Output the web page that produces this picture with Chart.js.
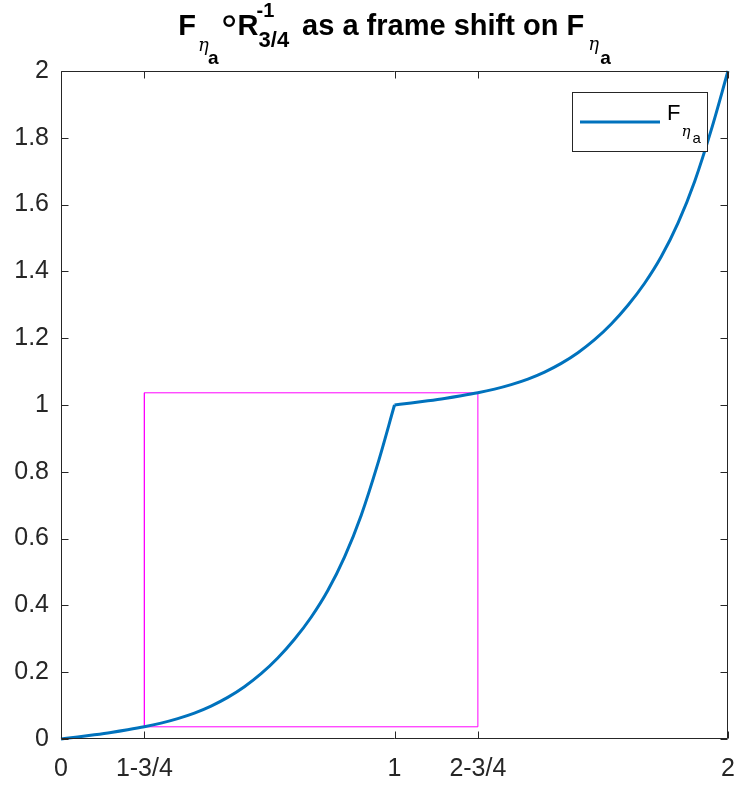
<!DOCTYPE html>
<html>
<head>
<meta charset="utf-8">
<script src="https://cdn.jsdelivr.net/npm/chart.js@4.4.1/dist/chart.umd.min.js"></script>
<style>
  html, body { margin: 0; padding: 0; background: #ffffff; }
  canvas { display: block; }
</style>
</head>
<body>
<canvas id="chart" width="736" height="787"></canvas>
<script>
// F on [0, 1]
const xLeft = [0, 0.05, 0.1, 0.15, 0.2, 0.25, 0.3, 0.35, 0.4, 0.45, 0.5,
               0.55, 0.6, 0.65, 0.7, 0.75, 0.8, 0.85, 0.9, 0.95, 1.0];
const fLeft = [0, 0.006, 0.0125, 0.0195, 0.0275, 0.0365, 0.0475, 0.061, 0.0775, 0.0985, 0.1245,
               0.1565, 0.1955, 0.2425, 0.2985, 0.3645, 0.4445, 0.5445, 0.6695, 0.8245, 1.000];

// F on [1, 2]
const xRight = [1.0, 1.05, 1.1, 1.15, 1.2, 1.25, 1.3, 1.35, 1.4, 1.45, 1.5,
                1.55, 1.6, 1.65, 1.7, 1.75, 1.8, 1.85, 1.9, 1.95, 2.0];
const fRight = [1.000, 1.006, 1.0125, 1.0195, 1.0275, 1.0365, 1.0475, 1.061, 1.0775, 1.0985, 1.1245,
                1.1565, 1.1955, 1.2425, 1.2985, 1.3645, 1.4445, 1.5445, 1.6695, 1.8245, 2.000];

// shifted frame: from 1-3/4 to 2-3/4
const frameX = [0.25, 1.25];
const frameY = [fLeft[5], fRight[5]];

const xTickValues = [0, 0.25, 1, 1.25, 2];
const xTickLabels = ['0', '1-3/4', '1', '2-3/4', '2'];
const yTickValues = [0, 0.2, 0.4, 0.6, 0.8, 1, 1.2, 1.4, 1.6, 1.8, 2];
const yTickLabels = ['0', '0.2', '0.4', '0.6', '0.8', '1', '1.2', '1.4', '1.6', '1.8', '2'];

const SANS = '"Liberation Sans", Arial, Helvetica, sans-serif';
const SERIF_IT = '"DejaVu Serif", "Liberation Serif", serif';
const AXIS_COLOR = '#262626';
const LINE_BLUE = '#0072BD';

const toPoints = (xs, ys) => xs.map((x, i) => ({ x: x, y: ys[i] }));

const framePoints = [
  { x: frameX[0], y: frameY[0] },
  { x: frameX[1], y: frameY[0] },
  { x: frameX[1], y: frameY[1] },
  { x: frameX[0], y: frameY[1] },
  { x: frameX[0], y: frameY[0] }
];

// axes box with inward tick marks on all four sides
const axesBox = {
  id: 'axesBox',
  afterDatasetsDraw(chart) {
    const { ctx, chartArea: a, scales } = chart;
    const L = Math.round(a.left) + 0.5, R = Math.round(a.right) - 0.5;
    const T = Math.round(a.top) + 0.5, B = Math.round(a.bottom) - 0.5;
    const tick = 7;
    ctx.save();
    ctx.strokeStyle = AXIS_COLOR;
    ctx.lineWidth = 1;
    ctx.beginPath();
    ctx.rect(L, T, R - L, B - T);
    xTickValues.forEach(v => {
      const px = Math.round(scales.x.getPixelForValue(v)) + 0.5;
      ctx.moveTo(px, B); ctx.lineTo(px, B - tick);
      ctx.moveTo(px, T); ctx.lineTo(px, T + tick);
    });
    yTickValues.forEach(v => {
      const py = Math.round(scales.y.getPixelForValue(v)) + 0.5;
      ctx.moveTo(L, py); ctx.lineTo(L + tick, py);
      ctx.moveTo(R, py); ctx.lineTo(R - tick, py);
    });
    ctx.stroke();
    ctx.restore();
  }
};

// measure (and optionally draw) a row of text runs; runs sharing a
// "stack" key start at the same x (super- and subscripts)
function layoutRuns(ctx, runs, startX, draw) {
  let x = startX;
  let i = 0;
  while (i < runs.length) {
    const r = runs[i];
    if (r.stack) {
      let w = 0;
      const group = [];
      while (i < runs.length && runs[i].stack === r.stack) { group.push(runs[i]); i++; }
      group.forEach(g => {
        ctx.font = g.font;
        if (draw) ctx.fillText(g.text, x + (g.dx || 0), g.y);
        w = Math.max(w, ctx.measureText(g.text).width + (g.dx || 0));
      });
      x += w + (group[group.length - 1].after || 0);
    } else if (r.box) {
      ctx.font = r.font;
      if (draw) {
        ctx.textAlign = 'center';
        ctx.fillText(r.text, x + r.box / 2, r.y);
        ctx.textAlign = 'left';
      }
      x += r.box + (r.after || 0);
      i++;
    } else {
      ctx.font = r.font;
      if (draw) ctx.fillText(r.text, x + (r.dx || 0), r.y);
      x += ctx.measureText(r.text).width + (r.dx || 0) + (r.after || 0);
      i++;
    }
  }
  return x - startX;
}

const titleAndLegend = {
  id: 'titleAndLegend',
  afterDraw(chart) {
    const { ctx, chartArea: a } = chart;
    ctx.save();
    ctx.textAlign = 'left';
    ctx.textBaseline = 'alphabetic';
    ctx.fillStyle = '#000000';

    const big = 'bold 29px ' + SANS;
    const eta = 'italic 18px ' + SERIF_IT;
    const subA = 'bold 19px ' + SANS;
    const titleRuns = [
      { text: 'F', font: big, y: 35, after: 2 },
      { text: 'η', font: eta, y: 51, stack: 's1' },
      { text: 'a', font: subA, y: 64, dx: 10, stack: 's1', after: 5 },
      { text: '∘', font: '38px "DejaVu Sans", sans-serif', y: 33, box: 11, after: 3 },
      { text: 'R', font: big, y: 35, after: -2 },
      { text: '-1', font: 'bold 20px ' + SANS, y: 17, stack: 's2' },
      { text: '3/4', font: 'bold 22px ' + SANS, y: 47, dx: 2, stack: 's2', after: 13 },
      { text: 'as a frame shift on F', font: big, y: 35, after: 4 },
      { text: 'η', font: eta, y: 50, stack: 's3' },
      { text: 'a', font: subA, y: 64, dx: 12, stack: 's3' }
    ];
    const tw = layoutRuns(ctx, titleRuns, 0, false);
    const cx = (a.left + a.right) / 2;
    layoutRuns(ctx, titleRuns, cx - tw / 2, true);

    // legend
    const lx = Math.round(a.right) - 156, ly = Math.round(a.top) + 21;
    const lw = 135, lh = 59;
    ctx.fillStyle = '#ffffff';
    ctx.fillRect(lx, ly, lw, lh);
    ctx.strokeStyle = AXIS_COLOR;
    ctx.lineWidth = 1;
    ctx.strokeRect(lx + 0.5, ly + 0.5, lw, lh);
    ctx.strokeStyle = LINE_BLUE;
    ctx.lineWidth = 3;
    ctx.beginPath();
    ctx.moveTo(lx + 8, ly + 30);
    ctx.lineTo(lx + 88, ly + 30);
    ctx.stroke();
    ctx.fillStyle = '#000000';
    layoutRuns(ctx, [
      { text: 'F', font: '22px ' + SANS, y: ly + 28, after: 1 },
      { text: 'η', font: 'italic 15px ' + SERIF_IT, y: ly + 44, stack: 'l1' },
      { text: 'a', font: '15px ' + SANS, y: ly + 51, dx: 11, stack: 'l1' }
    ], lx + 95, true);
    ctx.restore();
  }
};

new Chart(document.getElementById('chart'), {
  type: 'line',
  data: {
    datasets: [
      {
        label: 'F_ηa',
        data: toPoints(xLeft, fLeft),
        borderColor: LINE_BLUE,
        borderWidth: 3,
        pointRadius: 0,
        cubicInterpolationMode: 'monotone',
        fill: false,
        clip: false
      },
      {
        label: 'F_ηa (upper)',
        data: toPoints(xRight, fRight),
        borderColor: LINE_BLUE,
        borderWidth: 3,
        pointRadius: 0,
        cubicInterpolationMode: 'monotone',
        fill: false,
        clip: false
      },
      {
        label: 'frame',
        data: framePoints,
        borderColor: '#FF00FF',
        borderWidth: 1,
        pointRadius: 0,
        tension: 0,
        fill: false
      }
    ]
  },
  options: {
    responsive: false,
    animation: false,
    devicePixelRatio: 1,
    layout: { padding: { top: 71, right: 8, left: 0, bottom: 0 } },
    plugins: {
      legend: { display: false },
      title: { display: false },
      tooltip: { enabled: false }
    },
    scales: {
      x: {
        type: 'linear',
        min: 0,
        max: 2,
        afterBuildTicks: s => { s.ticks = xTickValues.map(v => ({ value: v })); },
        afterFit: s => { s.height = 48; s.paddingLeft = 0; s.paddingRight = 0; },
        ticks: {
          autoSkip: false,
          maxRotation: 0,
          padding: 15,
          color: AXIS_COLOR,
          font: { family: SANS, size: 25 },
          callback: (v, i) => xTickLabels[i]
        },
        grid: { display: false, drawTicks: false },
        border: { display: false }
      },
      y: {
        type: 'linear',
        min: 0,
        max: 2,
        afterBuildTicks: s => { s.ticks = yTickValues.map(v => ({ value: v })); },
        afterFit: s => { s.width = 61; s.paddingTop = 0; s.paddingBottom = 0; },
        ticks: {
          autoSkip: false,
          padding: 12,
          color: AXIS_COLOR,
          font: { family: SANS, size: 25 },
          callback: (v, i) => yTickLabels[i]
        },
        grid: { display: false, drawTicks: false },
        border: { display: false }
      }
    }
  },
  plugins: [axesBox, titleAndLegend]
});
</script>
</body>
</html>
